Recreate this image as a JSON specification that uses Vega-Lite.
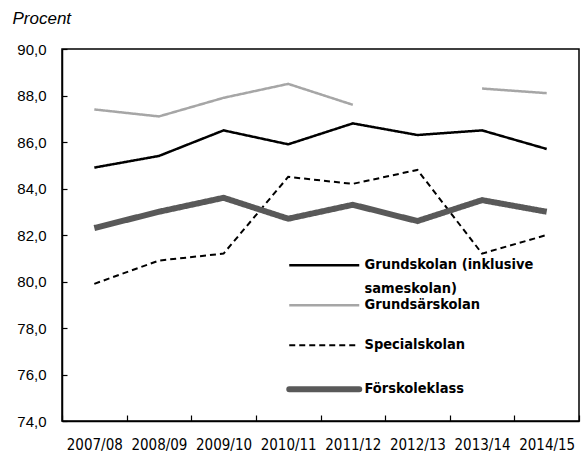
{
  "$schema": "https://vega.github.io/schema/vega-lite/v6.json",
  "width": 517,
  "height": 372,
  "autosize": "none",
  "padding": {"left": 62, "top": 49, "right": 3, "bottom": 34},
  "background": "white",
  "config": {
    "view": {"stroke": "black", "strokeWidth": 1.5},
    "axis": {"domainColor": "black", "domainWidth": 1.5, "tickColor": "black", "tickWidth": 1.2, "grid": false, "labelColor": "black"}
  },
  "data": {"values": [
    {"year": "2007/08", "series": "Grundskolan (inklusive sameskolan)", "value": 84.9},
    {"year": "2008/09", "series": "Grundskolan (inklusive sameskolan)", "value": 85.4},
    {"year": "2009/10", "series": "Grundskolan (inklusive sameskolan)", "value": 86.5},
    {"year": "2010/11", "series": "Grundskolan (inklusive sameskolan)", "value": 85.9},
    {"year": "2011/12", "series": "Grundskolan (inklusive sameskolan)", "value": 86.8},
    {"year": "2012/13", "series": "Grundskolan (inklusive sameskolan)", "value": 86.3},
    {"year": "2013/14", "series": "Grundskolan (inklusive sameskolan)", "value": 86.5},
    {"year": "2014/15", "series": "Grundskolan (inklusive sameskolan)", "value": 85.7},
    {"year": "2007/08", "series": "Grundsärskolan", "value": 87.4},
    {"year": "2008/09", "series": "Grundsärskolan", "value": 87.1},
    {"year": "2009/10", "series": "Grundsärskolan", "value": 87.9},
    {"year": "2010/11", "series": "Grundsärskolan", "value": 88.5},
    {"year": "2011/12", "series": "Grundsärskolan", "value": 87.6},
    {"year": "2012/13", "series": "Grundsärskolan", "value": null},
    {"year": "2013/14", "series": "Grundsärskolan", "value": 88.3},
    {"year": "2014/15", "series": "Grundsärskolan", "value": 88.1},
    {"year": "2007/08", "series": "Specialskolan", "value": 79.9},
    {"year": "2008/09", "series": "Specialskolan", "value": 80.9},
    {"year": "2009/10", "series": "Specialskolan", "value": 81.2},
    {"year": "2010/11", "series": "Specialskolan", "value": 84.5},
    {"year": "2011/12", "series": "Specialskolan", "value": 84.2},
    {"year": "2012/13", "series": "Specialskolan", "value": 84.8},
    {"year": "2013/14", "series": "Specialskolan", "value": 81.2},
    {"year": "2014/15", "series": "Specialskolan", "value": 82.0},
    {"year": "2007/08", "series": "Förskoleklass", "value": 82.3},
    {"year": "2008/09", "series": "Förskoleklass", "value": 83.0},
    {"year": "2009/10", "series": "Förskoleklass", "value": 83.6},
    {"year": "2010/11", "series": "Förskoleklass", "value": 82.7},
    {"year": "2011/12", "series": "Förskoleklass", "value": 83.3},
    {"year": "2012/13", "series": "Förskoleklass", "value": 82.6},
    {"year": "2013/14", "series": "Förskoleklass", "value": 83.5},
    {"year": "2014/15", "series": "Förskoleklass", "value": 83.0}
  ]},
  "mark": {"type": "line", "invalid": "break-paths-show-domains"},
  "encoding": {
    "x": {
      "field": "year", "type": "ordinal", "bandPosition": 0.5,
      "scale": {"type": "band", "paddingInner": 0, "paddingOuter": 0},
      "axis": {"title": null, "labelAngle": 0, "tickBand": "extent", "tickSize": -6, "labelPadding": 22,
               "labelFont": "DejaVu Sans Condensed, Liberation Sans, sans-serif", "labelFontSize": 15, "labelBaseline": "top"}
    },
    "y": {
      "field": "value", "type": "quantitative",
      "scale": {"domain": [74, 90], "zero": false, "nice": false},
      "axis": {"values": [74, 76, 78, 80, 82, 84, 86, 88, 90], "tickSize": -5, "labelPadding": 21,
               "labelExpr": "replace(format(datum.value, '.1f'), '.', ',')",
               "labelFont": "Liberation Sans, Arial, sans-serif", "labelFontSize": 15,
               "title": "Procent", "titleAngle": 0, "titleX": -50, "titleY": -26, "titleAlign": "left", "titleBaseline": "alphabetic",
               "titleFont": "Liberation Sans, Arial, sans-serif", "titleFontSize": 17, "titleFontStyle": "italic", "titleFontWeight": "normal"}
    },
    "color": {
      "field": "series", "type": "nominal",
      "scale": {"domain": ["Grundskolan (inklusive sameskolan)", "Grundsärskolan", "Specialskolan", "Förskoleklass"],
                "range": ["#000000", "#a6a6a6", "#000000", "#595959"]},
      "legend": {
        "orient": "none", "legendX": 220, "legendY": 209, "title": null, "padding": 0,
        "symbolType": "M0,0H70", "symbolSize": 4, "labelOffset": 68, "rowPadding": 1,
        "labelFont": "DejaVu Sans Condensed, Liberation Sans, sans-serif", "labelFontWeight": "bold", "labelFontSize": 14.5, "labelColor": "black", "labelLimit": 400,
        "labelExpr": "datum.label == 'Grundskolan (inklusive sameskolan)' ? ['Grundskolan (inklusive', 'sameskolan)'] : [datum.label, '']",
        "encode": {
          "symbols": {"update": {
            "strokeWidth": {"signal": "datum.value == 'Förskoleklass' ? 6 : datum.value == 'Specialskolan' ? 2 : 2.5"},
            "strokeCap": {"signal": "datum.value == 'Förskoleklass' ? 'round' : 'butt'"}
          }},
          "labels": {"update": {"lineHeight": {"value": 24}}}
        }
      }
    },
    "strokeDash": {
      "field": "series", "type": "nominal",
      "scale": {"domain": ["Grundskolan (inklusive sameskolan)", "Grundsärskolan", "Specialskolan", "Förskoleklass"],
                "range": [[1, 0], [1, 0], [6, 4], [1, 0]]}
    },
    "strokeWidth": {
      "condition": [
        {"test": "datum.series == 'Förskoleklass'", "value": 6},
        {"test": "datum.series == 'Specialskolan'", "value": 2}
      ],
      "value": 2.5
    }
  }
}
